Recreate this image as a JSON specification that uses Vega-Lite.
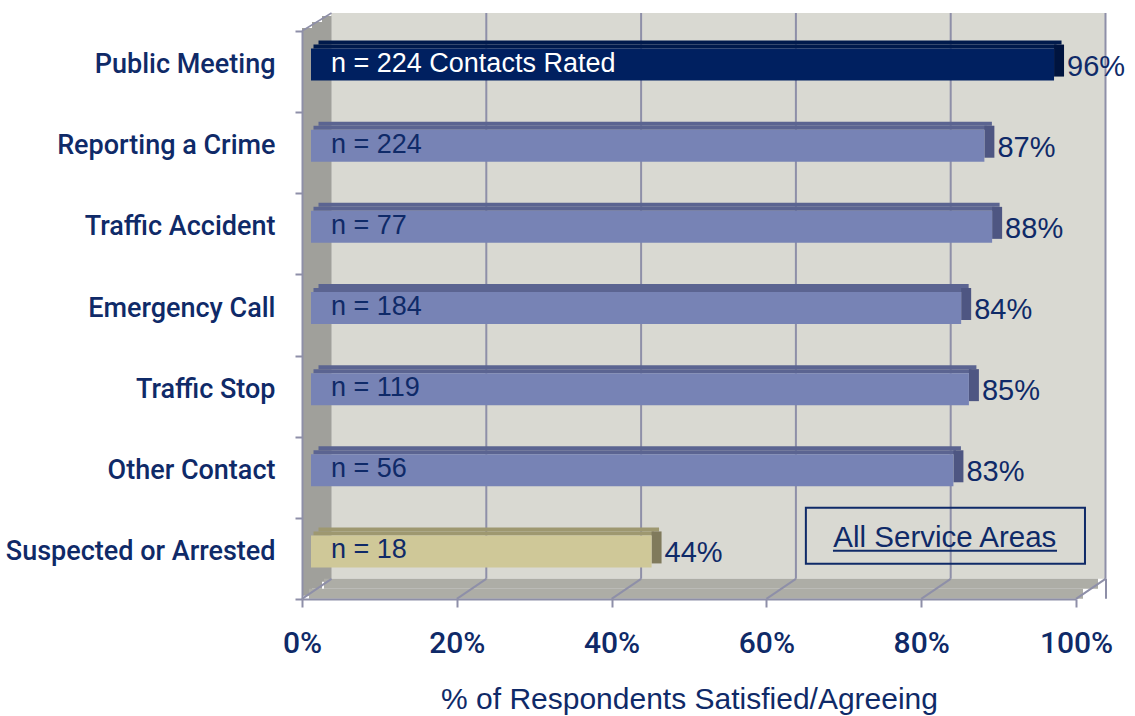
{
  "$schema": "https://vega.github.io/schema/vega-lite/v6.json",
  "width": 774,
  "height": 568,
  "autosize": {"type": "none"},
  "padding": {"left": 302, "top": 31, "right": 59, "bottom": 117},
  "background": "white",
  "config": {"view": {"stroke": null}, "font": "Liberation Sans"},
  "data": {"values": [
    {"category": "Public Meeting", "pct": 0.96, "nlabel": "n = 224 Contacts Rated"},
    {"category": "Reporting a Crime", "pct": 0.87, "nlabel": "n = 224"},
    {"category": "Traffic Accident", "pct": 0.88, "nlabel": "n = 77"},
    {"category": "Emergency Call", "pct": 0.84, "nlabel": "n = 184"},
    {"category": "Traffic Stop", "pct": 0.85, "nlabel": "n = 119"},
    {"category": "Other Contact", "pct": 0.83, "nlabel": "n = 56"},
    {"category": "Suspected or Arrested", "pct": 0.44, "nlabel": "n = 18"}
  ]},
  "resolve": {"scale": {"color": "independent"}},
  "layer": [
    {
      "data": {"values": [{}]},
      "mark": {"type": "rect", "fill": "#d9d9d2", "xOffset": 29, "x2Offset": 30, "yOffset": -18, "y2Offset": 61},
      "encoding": {
        "x": {"datum": 0, "type": "quantitative"},
        "x2": {"datum": 1},
        "y": {"datum": "Public Meeting", "type": "nominal", "bandPosition": 0},
        "y2": {"datum": "Suspected or Arrested", "bandPosition": 0}
      }
    },
    {
      "data": {"values": [{}]},
      "mark": {"type": "rect", "fill": "#a0a09b", "xOffset": 0, "x2Offset": 10, "yOffset": -3, "y2Offset": 78},
      "encoding": {
        "x": {"datum": 0, "type": "quantitative"},
        "x2": {"datum": 0},
        "y": {"datum": "Public Meeting", "type": "nominal", "bandPosition": 0},
        "y2": {"datum": "Suspected or Arrested", "bandPosition": 0}
      }
    },
    {
      "data": {"values": [{}]},
      "mark": {"type": "rect", "fill": "#a0a09b", "xOffset": 10, "x2Offset": 20, "yOffset": -9, "y2Offset": 71},
      "encoding": {
        "x": {"datum": 0, "type": "quantitative"},
        "x2": {"datum": 0},
        "y": {"datum": "Public Meeting", "type": "nominal", "bandPosition": 0},
        "y2": {"datum": "Suspected or Arrested", "bandPosition": 0}
      }
    },
    {
      "data": {"values": [{}]},
      "mark": {"type": "rect", "fill": "#a0a09b", "xOffset": 20, "x2Offset": 29.5, "yOffset": -15, "y2Offset": 64},
      "encoding": {
        "x": {"datum": 0, "type": "quantitative"},
        "x2": {"datum": 0},
        "y": {"datum": "Public Meeting", "type": "nominal", "bandPosition": 0},
        "y2": {"datum": "Suspected or Arrested", "bandPosition": 0}
      }
    },
    {
      "data": {"values": [{}]},
      "mark": {"type": "rect", "fill": "#adada6", "xOffset": 22, "x2Offset": 22, "yOffset": 61, "y2Offset": 71},
      "encoding": {
        "x": {"datum": 0, "type": "quantitative"},
        "x2": {"datum": 1},
        "y": {"datum": "Suspected or Arrested", "type": "nominal", "bandPosition": 0},
        "y2": {"datum": "Suspected or Arrested", "bandPosition": 0}
      }
    },
    {
      "data": {"values": [{}]},
      "mark": {"type": "rect", "fill": "#adada6", "xOffset": 7, "x2Offset": 7, "yOffset": 71, "y2Offset": 81},
      "encoding": {
        "x": {"datum": 0, "type": "quantitative"},
        "x2": {"datum": 1},
        "y": {"datum": "Suspected or Arrested", "type": "nominal", "bandPosition": 0},
        "y2": {"datum": "Suspected or Arrested", "bandPosition": 0}
      }
    },
    {
      "data": {"values": [{"v": 0.2}, {"v": 0.4}, {"v": 0.6}, {"v": 0.8}, {"v": 1.0}]},
      "mark": {"type": "rule", "color": "#8e8fa8", "strokeWidth": 2, "xOffset": 29.5, "yOffset": -18, "y2Offset": 61},
      "encoding": {
        "x": {"field": "v", "type": "quantitative"},
        "y": {"datum": "Public Meeting", "type": "nominal", "bandPosition": 0},
        "y2": {"datum": "Suspected or Arrested", "bandPosition": 0}
      }
    },
    {
      "data": {"values": [{"v": 0}, {"v": 0.2}, {"v": 0.4}, {"v": 0.6}, {"v": 0.8}, {"v": 1.0}]},
      "mark": {"type": "rule", "color": "#8e8fa8", "strokeWidth": 2, "x2Offset": 29.5, "yOffset": 81, "y2Offset": 61},
      "encoding": {
        "x": {"field": "v", "type": "quantitative"},
        "x2": {"field": "v"},
        "y": {"datum": "Suspected or Arrested", "type": "nominal", "bandPosition": 0},
        "y2": {"datum": "Suspected or Arrested", "bandPosition": 0}
      }
    },
    {
      "data": {"values": [{}]},
      "mark": {"type": "rule", "color": "#8e8fa8", "strokeWidth": 1.5, "x2Offset": 29.5, "yOffset": 0, "y2Offset": -18},
      "encoding": {
        "x": {"datum": 0, "type": "quantitative"},
        "x2": {"datum": 0},
        "y": {"datum": "Public Meeting", "type": "nominal", "bandPosition": 0},
        "y2": {"datum": "Public Meeting", "bandPosition": 0}
      }
    },
    {
      "data": {"values": [{}]},
      "mark": {"type": "rule", "color": "#8e8fa8", "strokeWidth": 2, "xOffset": 30, "x2Offset": 30, "yOffset": 61, "y2Offset": 81},
      "encoding": {
        "x": {"datum": 1, "type": "quantitative"},
        "x2": {"datum": 1},
        "y": {"datum": "Suspected or Arrested", "type": "nominal", "bandPosition": 0},
        "y2": {"datum": "Suspected or Arrested", "bandPosition": 0}
      }
    },
    {
      "mark": {"type": "bar", "height": 4, "yOffset": -25, "xOffset": 11.5},
      "encoding": {
        "x": {"field": "pct", "type": "quantitative"},
        "y": {"field": "category", "type": "nominal"},
        "color": {"field": "category", "type": "nominal", "legend": null,
          "scale": {"domain": ["Public Meeting", "Reporting a Crime", "Traffic Accident", "Emergency Call", "Traffic Stop", "Other Contact", "Suspected or Arrested"],
                    "range": ["#001a4c", "#5b6491", "#5b6491", "#5b6491", "#5b6491", "#5b6491", "#9e9870"]}}
      }
    },
    {
      "mark": {"type": "bar", "height": 4, "yOffset": -29, "xOffset": 16.5},
      "encoding": {
        "x": {"field": "pct", "type": "quantitative"},
        "y": {"field": "category", "type": "nominal"},
        "color": {"field": "category", "type": "nominal", "legend": null,
          "scale": {"domain": ["Public Meeting", "Reporting a Crime", "Traffic Accident", "Emergency Call", "Traffic Stop", "Other Contact", "Suspected or Arrested"],
                    "range": ["#001a4c", "#5b6491", "#5b6491", "#5b6491", "#5b6491", "#5b6491", "#9e9870"]}}
      }
    },
    {
      "mark": {"type": "rect", "height": 32, "yOffset": -11, "xOffset": 9, "x2Offset": 19},
      "encoding": {
        "x": {"field": "pct", "type": "quantitative"},
        "x2": {"field": "pct"},
        "y": {"field": "category", "type": "nominal"},
        "color": {"field": "category", "type": "nominal", "legend": null,
          "scale": {"domain": ["Public Meeting", "Reporting a Crime", "Traffic Accident", "Emergency Call", "Traffic Stop", "Other Contact", "Suspected or Arrested"],
                    "range": ["#00143f", "#4e5682", "#4e5682", "#4e5682", "#4e5682", "#4e5682", "#807a5c"]}}
      }
    },
    {
      "mark": {"type": "bar", "height": 32, "yOffset": -7, "xOffset": 9},
      "encoding": {
        "x": {"field": "pct", "type": "quantitative",
          "scale": {"domain": [0, 1], "nice": false},
          "axis": {"values": [0, 0.2, 0.4, 0.6, 0.8, 1.0], "format": ".0%", "grid": false, "zindex": 1,
                   "domainColor": "#8e8fa8", "domainWidth": 2, "tickColor": "#8e8fa8", "tickWidth": 2, "tickSize": 8,
                   "labelFont": "Roboto", "labelFontWeight": 500, "labelFontSize": 30, "labelColor": "#0f2a68", "labelPadding": 21,
                   "labelFlush": false,
                   "title": "% of Respondents Satisfied/Agreeing", "titleFont": "Liberation Sans", "titleFontWeight": "normal",
                   "titleFontSize": 30, "titleColor": "#0f2a68", "titlePadding": 26}},
        "y": {"field": "category", "type": "nominal",
          "scale": {"type": "band", "domain": ["Public Meeting", "Reporting a Crime", "Traffic Accident", "Emergency Call", "Traffic Stop", "Other Contact", "Suspected or Arrested"], "paddingInner": 0, "paddingOuter": 0},
          "axis": {"title": null, "tickBand": "extent", "grid": false, "zindex": 1,
                   "domainColor": "#8e8fa8", "domainWidth": 2, "tickColor": "#8e8fa8", "tickWidth": 2, "tickSize": 7,
                   "labelFont": "Roboto", "labelFontWeight": 500, "labelFontSize": 27, "labelColor": "#0f2a68",
                   "labelPadding": 20, "labelOffset": -7, "labelLimit": 400}},
        "color": {"field": "category", "type": "nominal", "legend": null,
          "scale": {"domain": ["Public Meeting", "Reporting a Crime", "Traffic Accident", "Emergency Call", "Traffic Stop", "Other Contact", "Suspected or Arrested"],
                    "range": ["#002060", "#7783b5", "#7783b5", "#7783b5", "#7783b5", "#7783b5", "#cfc898"]}}
      }
    },
    {
      "mark": {"type": "text", "align": "left", "baseline": "middle", "xOffset": 29, "yOffset": -8, "fontSize": 27, "font": "Liberation Sans"},
      "encoding": {
        "x": {"datum": 0, "type": "quantitative"},
        "y": {"field": "category", "type": "nominal"},
        "text": {"field": "nlabel"},
        "color": {"condition": {"test": "datum.category === 'Public Meeting'", "value": "white"}, "value": "#0f2a68"}
      }
    },
    {
      "mark": {"type": "text", "align": "left", "baseline": "middle", "xOffset": 22, "yOffset": -5, "fontSize": 29, "font": "Liberation Sans", "color": "#0f2a68"},
      "encoding": {
        "x": {"field": "pct", "type": "quantitative"},
        "y": {"field": "category", "type": "nominal"},
        "text": {"field": "pct", "format": ".0%"}
      }
    },
    {
      "data": {"values": [{}]},
      "mark": {"type": "rect", "fill": null, "stroke": "#0f2a68", "strokeWidth": 2, "yOffset": -10, "y2Offset": 46},
      "encoding": {
        "x": {"datum": 0.651, "type": "quantitative"},
        "x2": {"datum": 1.0116},
        "y": {"datum": "Suspected or Arrested", "type": "nominal", "bandPosition": 0},
        "y2": {"datum": "Suspected or Arrested", "bandPosition": 0}
      }
    },
    {
      "data": {"values": [{"t": "All Service Areas"}]},
      "mark": {"type": "text", "align": "center", "baseline": "middle", "yOffset": 20, "fontSize": 29.5, "font": "Liberation Sans", "color": "#0f2a68"},
      "encoding": {
        "x": {"datum": 0.8305, "type": "quantitative"},
        "y": {"datum": "Suspected or Arrested", "type": "nominal", "bandPosition": 0},
        "text": {"field": "t"}
      }
    },
    {
      "data": {"values": [{}]},
      "mark": {"type": "rule", "color": "#0f2a68", "strokeWidth": 2, "yOffset": 33},
      "encoding": {
        "x": {"datum": 0.686, "type": "quantitative"},
        "x2": {"datum": 0.9755},
        "y": {"datum": "Suspected or Arrested", "type": "nominal", "bandPosition": 0}
      }
    }
  ]
}
